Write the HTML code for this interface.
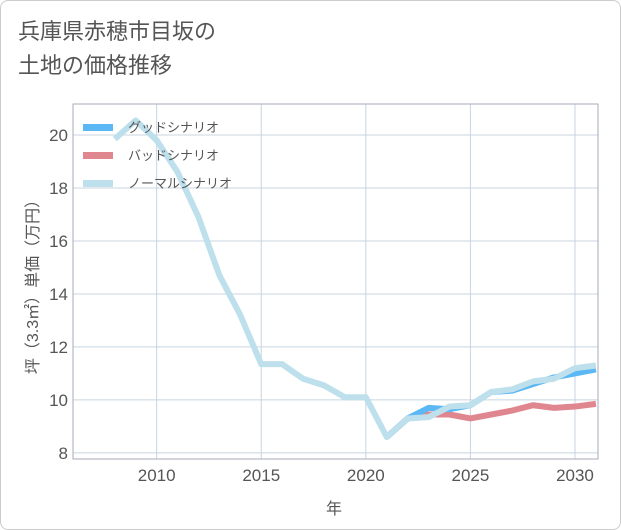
<!DOCTYPE html>
<html><head><meta charset="utf-8"><style>
body{margin:0;background:#fff;font-family:"Liberation Sans","Noto Sans CJK JP",sans-serif}
#wrap{position:relative;width:619px;height:528px;border:1px solid #ccc;border-radius:8px;overflow:hidden}
#title{position:absolute;left:17px;top:14px;font-size:22px;line-height:34px;color:#555}
</style></head><body>
<div id="wrap">
<div id="title">兵庫県赤穂市目坂の<br>土地の価格推移</div>
<svg id="svg" width="621" height="530" style="position:absolute;left:0;top:0"></svg>
</div>
<script>
const years=[2008,2009,2010,2011,2012,2013,2014,2015,2016,2017,2018,2019,2020,2021,2022,2023,2024,2025,2026,2027,2028,2029,2030,2031];
const normal=[19.85,20.55,19.8,18.6,16.9,14.7,13.2,11.35,11.35,10.8,10.55,10.1,10.1,8.6,9.3,9.35,9.75,9.8,10.3,10.4,10.7,10.8,11.2,11.3];
const goodYears=[2021,2022,2023,2024,2025,2026,2027,2028,2029,2030,2031];
const good=[8.6,9.3,9.7,9.65,9.8,10.3,10.35,10.6,10.85,11.0,11.15];
const bad=[8.6,9.3,9.45,9.45,9.3,9.45,9.6,9.8,9.7,9.75,9.85];
const xTicks=[2010,2015,2020,2025,2030];
const yTicks=[8,10,12,14,16,18,20];
const L=72,R=597,T=103,B=458,x0=2006,x1=2031.1,y0=7.77,y1=21.17;
const X=v=>L+(v-x0)/(x1-x0)*(R-L), Y=v=>B-(v-y0)/(y1-y0)*(B-T);
const svg=document.getElementById('svg');const NS='http://www.w3.org/2000/svg';
function el(t,a,p){const e=document.createElementNS(NS,t);for(const k in a)e.setAttribute(k,a[k]);(p||svg).appendChild(e);return e;}
xTicks.forEach(t=>{const g=el('line',{x1:X(t),x2:X(t),y1:T,y2:B,stroke:'#c8d4e0','stroke-width':1});

const tx=el('text',{x:X(t),y:B+22,'text-anchor':'middle','font-size':17,fill:'#555'});tx.textContent=t;
});
yTicks.forEach(t=>{const g=el('line',{x1:L,x2:R,y1:Y(t),y2:Y(t),stroke:'#c8d4e0','stroke-width':1});

const tx=el('text',{x:L-5,y:Y(t)+6,'text-anchor':'end','font-size':17,fill:'#555'});tx.textContent=t;
});
const fr=el('rect',{x:L,y:T,width:R-L,height:B-T,fill:'none',stroke:'#aab','stroke-width':1});

function line(xs,vs,c,n){const p=el('polyline',{points:xs.map((x,i)=>X(x)+','+Y(vs[i])).join(' '),fill:'none',stroke:c,'stroke-width':6,'stroke-linejoin':'round'});
}
line(goodYears,bad,'#e0868f','bad-scenario-line');
line(goodYears,good,'#5bb8f5','good-scenario-line');
line(years,normal,'#bde0ec','normal-scenario-line');
const leg=[['グッドシナリオ','#5bb8f5'],['バッドシナリオ','#e0868f'],['ノーマルシナリオ','#bde0ec']];
leg.forEach((l,i)=>{const y=126+i*28;
const r=el('rect',{x:82,y:y-3,width:30,height:7,fill:l[1]});
const t=el('text',{x:127,y:y+5,'font-size':13,fill:'#555'});t.textContent=l[0];});
const xt=el('text',{x:333,y:513,'text-anchor':'middle','font-size':16,fill:'#555'});xt.textContent='年';

const yt=el('text',{x:0,y:0,'text-anchor':'middle','font-size':16,fill:'#555',transform:'translate(37,282) rotate(-90)'});yt.textContent='坪（3.3㎡）単価（万円）';

</script>
</body></html>
